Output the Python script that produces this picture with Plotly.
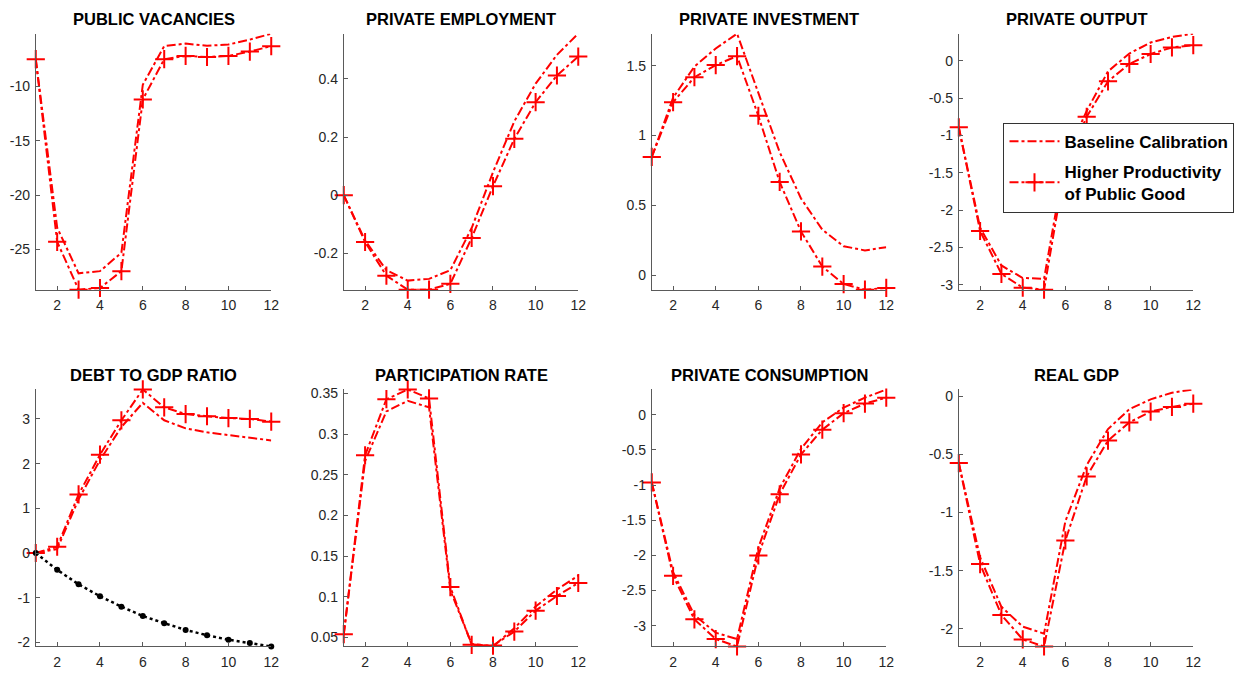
import plotly.graph_objects as go

# Quarters after the shock
periods = list(range(1, 13))
x_ticks = [2, 4, 6, 8, 10, 12]

panel_titles = [
    "PUBLIC VACANCIES", "PRIVATE EMPLOYMENT", "PRIVATE INVESTMENT", "PRIVATE OUTPUT",
    "DEBT TO GDP RATIO", "PARTICIPATION RATE", "PRIVATE CONSUMPTION", "REAL GDP",
]

# Baseline calibration responses
vacancies_base = [-7.5, -23.0, -27.2, -27.0, -25.3, -9.85, -6.3, -6.06, -6.27, -6.15, -5.7, -5.15]
employment_base = [0.0, -0.156, -0.258, -0.294, -0.288, -0.258, -0.113, 0.079, 0.254, 0.384, 0.483, 0.556]
investment_base = [0.846, 1.27, 1.493, 1.623, 1.729, 1.305, 0.88, 0.549, 0.325, 0.207, 0.177, 0.2]
output_base = [-0.89, -2.235, -2.742, -2.91, -2.92, -1.3, -0.67, -0.14, 0.10, 0.247, 0.322, 0.366]
debt_base = [0.0, 0.09, 1.2, 2.08, 2.82, 3.36, 2.97, 2.79, 2.70, 2.64, 2.58, 2.52]
participation_base = [0.054, 0.267, 0.328, 0.341, 0.333, 0.108, 0.042, 0.039, 0.0614, 0.088, 0.109, 0.126]
consumption_base = [-0.962, -2.24, -2.85, -3.10, -3.19, -1.89, -1.045, -0.483, -0.107, 0.103, 0.244, 0.361]
gdp_base = [-0.575, -1.386, -1.81, -1.98, -2.04, -1.075, -0.594, -0.283, -0.113, -0.028, 0.029, 0.057]

# Higher productivity of the public good
vacancies_high = [-7.5, -24.3, -28.7, -28.55, -27.0, -11.2, -7.5, -7.2, -7.3, -7.2, -6.8, -6.3]
employment_high = [0.0, -0.161, -0.277, -0.325, -0.325, -0.305, -0.147, 0.031, 0.194, 0.32, 0.412, 0.477]
investment_high = [0.846, 1.238, 1.417, 1.504, 1.568, 1.141, 0.667, 0.313, 0.061, -0.064, -0.104, -0.092]
output_high = [-0.89, -2.28, -2.855, -3.04, -3.066, -1.4, -0.749, -0.273, -0.04, 0.093, 0.181, 0.212]
debt_high = [0.0, 0.14, 1.31, 2.2, 2.97, 3.66, 3.26, 3.11, 3.06, 3.02, 3.0, 2.94]
participation_high = [0.054, 0.274, 0.343, 0.355, 0.344, 0.112, 0.041, 0.040, 0.0573, 0.083, 0.101, 0.117]
consumption_high = [-0.962, -2.29, -2.91, -3.19, -3.295, -2.0, -1.13, -0.563, -0.211, 0.023, 0.16, 0.244]
gdp_high = [-0.575, -1.443, -1.88, -2.09, -2.15, -1.24, -0.69, -0.382, -0.226, -0.133, -0.093, -0.065]

# Debt-to-GDP path without the fiscal expansion
debt_reference = [0.0, -0.377, -0.70, -0.967, -1.20, -1.41, -1.57, -1.72, -1.84, -1.94, -2.015, -2.09]

# Y tick values for each panel
vacancies_ticks = [-25, -20, -15, -10]
employment_ticks = [-0.2, 0, 0.2, 0.4]
investment_ticks = [0, 0.5, 1, 1.5]
output_ticks = [-3, -2.5, -2, -1.5, -1, -0.5, 0]
debt_ticks = [-2, -1, 0, 1, 2, 3]
participation_ticks = [0.05, 0.1, 0.15, 0.2, 0.25, 0.3, 0.35]
consumption_ticks = [-3, -2.5, -2, -1.5, -1, -0.5, 0]
gdp_ticks = [-2, -1.5, -1, -0.5, 0]

base_series = [vacancies_base, employment_base, investment_base, output_base,
               debt_base, participation_base, consumption_base, gdp_base]
high_series = [vacancies_high, employment_high, investment_high, output_high,
               debt_high, participation_high, consumption_high, gdp_high]
tick_sets = [vacancies_ticks, employment_ticks, investment_ticks, output_ticks,
             debt_ticks, participation_ticks, consumption_ticks, gdp_ticks]

W, H = 1243, 686
col_px = [(36, 273), (346, 582), (656, 892), (965, 1201)]
row_px = [(30, 289), (390, 650)]

RED = "#ff0000"
AXIS = "#5a5a5a"
TEXT = "#262626"
FONT = "Liberation Sans, Arial, Helvetica, sans-serif"

fig = go.Figure()
annotations = []

for i in range(8):
    r, c = divmod(i, 4)
    n = i + 1
    xa = "x" if n == 1 else f"x{n}"
    ya = "y" if n == 1 else f"y{n}"
    xkey = "xaxis" if n == 1 else f"xaxis{n}"
    ykey = "yaxis" if n == 1 else f"yaxis{n}"

    fig.add_trace(go.Scatter(
        x=periods, y=base_series[i], xaxis=xa, yaxis=ya,
        mode="lines", name="<b>Baseline Calibration</b>", legendgroup="base",
        line=dict(color=RED, width=2, dash="dashdot"),
        showlegend=(i == 3), cliponaxis=False,
    ))
    fig.add_trace(go.Scatter(
        x=periods, y=high_series[i], xaxis=xa, yaxis=ya,
        mode="lines+markers", name="<b>Higher Productivity<br>of Public Good</b>",
        legendgroup="high",
        line=dict(color=RED, width=2, dash="dashdot"),
        marker=dict(symbol="cross-thin", size=13, line=dict(color=RED, width=2)),
        showlegend=(i == 3), cliponaxis=False,
    ))
    all_vals = list(base_series[i]) + list(high_series[i])
    if i == 4:
        fig.add_trace(go.Scatter(
            x=periods, y=debt_reference, xaxis=xa, yaxis=ya,
            mode="lines+markers", showlegend=False,
            line=dict(color="black", width=2.5, dash="dot"),
            marker=dict(symbol="circle", size=6, color="black"),
            cliponaxis=False,
        ))
        all_vals += debt_reference

    x0, x1 = col_px[c]
    yt, yb = row_px[r]
    ticks = tick_sets[i]
    fig.layout[xkey] = dict(
        domain=[x0 / W, x1 / W], anchor=ya, range=[1, 12],
        tickvals=x_ticks, ticktext=[str(v) for v in x_ticks],
        showline=True, linecolor=AXIS, linewidth=1,
        ticks="inside", ticklen=4, tickcolor=AXIS,
        showgrid=False, zeroline=False, ticklabelstandoff=3,
        tickfont=dict(family=FONT, size=14, color=TEXT),
    )
    fig.layout[ykey] = dict(
        domain=[1 - yb / H, 1 - yt / H], anchor=xa,
        range=[min(all_vals), max(all_vals)],
        tickvals=ticks, ticktext=[f"{v:g}" for v in ticks],
        showline=True, linecolor=AXIS, linewidth=1,
        ticks="inside", ticklen=4, tickcolor=AXIS,
        showgrid=False, zeroline=False, ticklabelstandoff=2,
        tickfont=dict(family=FONT, size=14, color=TEXT),
    )
    annotations.append(dict(
        text=f"<b>{panel_titles[i]}</b>", xref="paper", yref="paper",
        x=(x0 + x1) / 2 / W, y=1 - (yt - 15) / H,
        xanchor="center", yanchor="middle", showarrow=False,
        font=dict(family=FONT, size=16.5, color="black"),
    ))

fig.update_layout(
    width=W, height=H,
    margin=dict(l=0, r=0, t=0, b=0),
    paper_bgcolor="white", plot_bgcolor="white",
    annotations=annotations,
    legend=dict(
        x=1010 / W, y=1 - 120 / H, xanchor="left", yanchor="top",
        bgcolor="white", bordercolor="#333333", borderwidth=1,
        font=dict(family=FONT, size=17, color="black"),
        traceorder="grouped", tracegroupgap=5, itemwidth=50,
    ),
)

fig.write_html("out.html")
